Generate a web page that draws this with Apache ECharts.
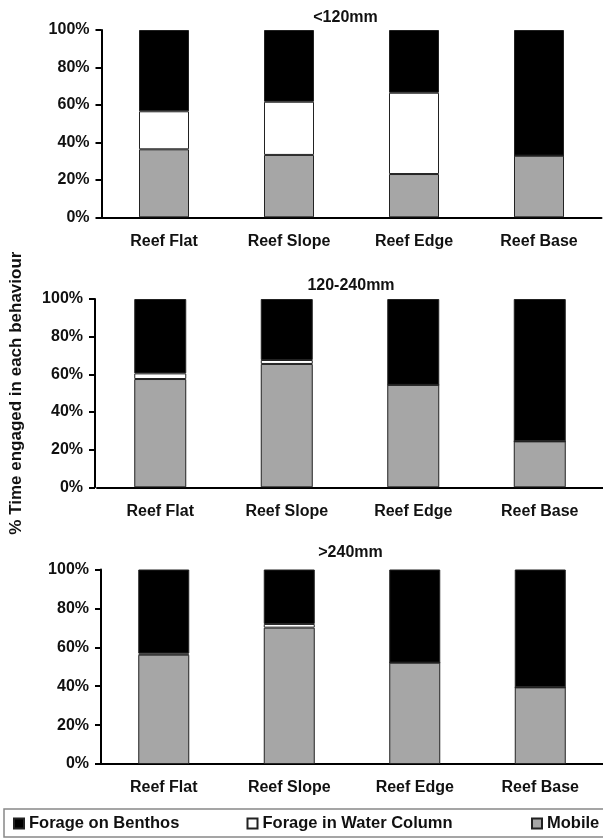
<!DOCTYPE html>
<html>
<head>
<meta charset="utf-8">
<script src="https://cdn.jsdelivr.net/npm/echarts@6/dist/echarts.min.js"></script>
<style>
html,body{margin:0;padding:0;background:#fff;}
#chart{width:603px;height:840px;}
</style>
</head>
<body>
<div id="chart"></div>
<script>
const categories = ['Reef Flat', 'Reef Slope', 'Reef Edge', 'Reef Base'];
const panelTitles = ['<120mm', '120-240mm', '>240mm'];
const seriesNames = ['Mobile', 'Forage in Water Column', 'Forage on Benthos'];
const yAxisTitle = '% Time engaged in each behaviour';

// panel 1: <120mm
const mobile1  = [36.3, 33.3, 23.1, 32.9];
const water1   = [20.3, 28.4, 43.4, 0];
const benthos1 = [43.4, 38.3, 33.5, 67.1];
// panel 2: 120-240mm
const mobile2  = [57.5, 65.5, 54.4, 24.4];
const water2   = [3.0, 2.1, 0, 0];
const benthos2 = [39.5, 32.4, 45.6, 75.6];
// panel 3: >240mm
const mobile3  = [56.2, 70.1, 52.1, 39.4];
const water3   = [0.6, 1.9, 0, 0];
const benthos3 = [43.2, 28.0, 47.9, 60.6];

const panels = [
  {mobile: mobile1, water: water1, benthos: benthos1},
  {mobile: mobile2, water: water2, benthos: benthos2},
  {mobile: mobile3, water: water3, benthos: benthos3}
];

const FONT = '"Liberation Sans", Arial, sans-serif';
const TXT = '#111';
const colors = {'Mobile': '#a6a6a6', 'Forage in Water Column': '#ffffff', 'Forage on Benthos': '#000000'};

const layout = [
  {left: 101.5, width: 500, top: 30, height: 187.3, barWidth: 50, titleX: 345.5, titleY: 10, yOffset: 0},
  {left: 95.5, width: 508, top: 299, height: 188.3, barWidth: 52, titleX: 351, titleY: 278, yOffset: 2},
  {left: 101, width: 505, top: 569.5, height: 194.5, barWidth: 51, titleX: 350.5, titleY: 545, yOffset: 0}
];

const grids = [], xAxes = [], yAxes = [], series = [], titles = [];
layout.forEach((L, i) => {
  grids.push({left: L.left, width: L.width, top: L.top, height: L.height, containLabel: false});
  titles.push({text: panelTitles[i], left: L.titleX, top: L.titleY, textAlign: 'center', padding: 0,
    textStyle: {fontFamily: FONT, fontSize: 16, fontWeight: 'bold', color: TXT}});
  xAxes.push({type: 'category', gridIndex: i, data: categories,
    axisLine: {show: true, lineStyle: {color: '#000', width: 2}},
    axisTick: {show: false},
    axisLabel: {margin: 16, fontFamily: FONT, fontSize: 16, fontWeight: 'bold', color: TXT}});
  const y = {type: 'value', gridIndex: i, min: 0, max: 100, interval: 20, offset: L.yOffset,
    axisLine: {show: true, lineStyle: {color: '#000', width: 2}},
    axisTick: {show: true, length: 6, lineStyle: {color: '#000', width: 2}},
    splitLine: {show: false},
    axisLabel: {formatter: '{value}%', margin: 12, fontFamily: FONT, fontSize: 16, fontWeight: 'bold', color: TXT}};
  if (i === 1) {
    y.name = yAxisTitle;
    y.nameLocation = 'middle';
    y.nameGap = 70;
    y.nameTextStyle = {fontFamily: FONT, fontSize: 17, fontWeight: 'bold', color: TXT};
  }
  yAxes.push(y);
  const P = panels[i];
  const vals = {'Mobile': P.mobile, 'Forage in Water Column': P.water, 'Forage on Benthos': P.benthos};
  seriesNames.forEach(n => {
    series.push({name: n, type: 'bar', stack: 'p' + i, xAxisIndex: i, yAxisIndex: i,
      barWidth: L.barWidth, data: vals[n],
      itemStyle: {color: colors[n], borderColor: '#222', borderWidth: 1},
      emphasis: {disabled: true}});
  });
});

const legendText = {fontFamily: FONT, fontSize: 16.5, fontWeight: 'bold', color: TXT};
const option = {
  animation: false,
  title: titles,
  grid: grids,
  xAxis: xAxes,
  yAxis: yAxes,
  legend: [
    {data: ['Forage on Benthos'], left: 4, top: 809, orient: 'horizontal', icon: 'rect',
      itemWidth: 10, itemHeight: 10, padding: [6, 427, 5, 9], borderColor: '#888', borderWidth: 1.5,
      textStyle: legendText, selectedMode: false},
    {data: ['Forage in Water Column'], left: 246.5, top: 815, icon: 'rect', padding: 0,
      itemWidth: 10, itemHeight: 10, textStyle: legendText, selectedMode: false},
    {data: ['Mobile'], left: 531, top: 815, icon: 'rect', padding: 0,
      itemWidth: 10, itemHeight: 10, textStyle: legendText, selectedMode: false}
  ],
  series: series
};

const chart = echarts.init(document.getElementById('chart'), null, {renderer: 'canvas'});
chart.setOption(option);
</script>
</body>
</html>
